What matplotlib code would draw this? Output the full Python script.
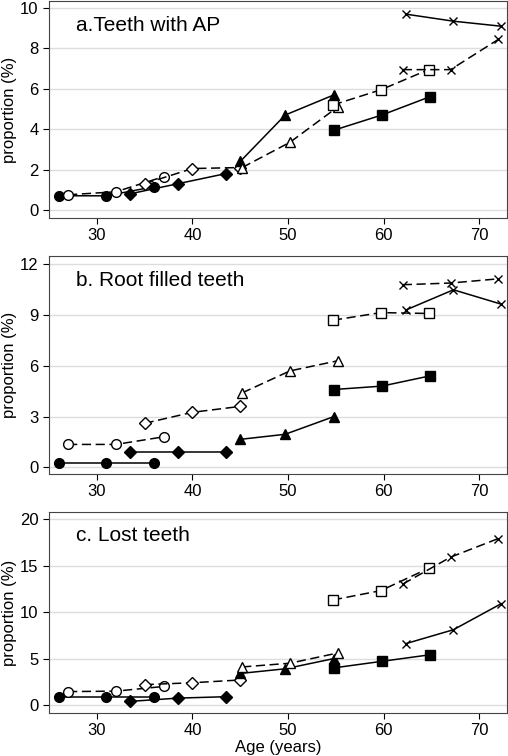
import matplotlib.pyplot as plt

plt.rcParams['font.family'] = ['Liberation Sans', 'DejaVu Sans']

# ages for each cohort (filled = solid line, open = dashed line)
age_circ_f = [26, 31, 36]
age_circ_o = [27, 32, 37]
age_diam_f = [33.5, 38.5, 43.5]
age_diam_o = [35, 40, 45]
age_tri_f = [45, 49.7, 54.8]
age_tri_o = [45.2, 50.2, 55.2]
age_sq_f = [54.8, 59.8, 64.8]
age_sq_o = [54.7, 59.7, 64.7]
age_x_f = [62.3, 67.3, 72.3]
age_x_o = [62, 67, 72]

# a. teeth with AP
ap = {
    'circ_f': [0.7, 0.7, 1.15], 'circ_o': [0.75, 0.9, 1.65],
    'diam_f': [0.8, 1.3, 1.8], 'diam_o': [1.3, 2.05, 2.1],
    'tri_f': [2.4, 4.7, 5.7], 'tri_o': [2.1, 3.35, 5.1],
    'sq_f': [3.95, 4.7, 5.6], 'sq_o': [5.2, 5.95, 6.95],
    'x_f': [9.7, 9.35, 9.1], 'x_o': [6.95, 6.95, 8.45],
}
# b. root filled teeth
rf = {
    'circ_f': [0.25, 0.25, 0.25], 'circ_o': [1.35, 1.35, 1.8],
    'diam_f': [0.9, 0.9, 0.9], 'diam_o': [2.6, 3.25, 3.6],
    'tri_f': [1.65, 1.95, 3.0], 'tri_o': [4.4, 5.7, 6.3],
    'sq_f': [4.6, 4.8, 5.4], 'sq_o': [8.7, 9.15, 9.1],
    'x_f': [9.3, 10.5, 9.65], 'x_o': [10.8, 10.9, 11.15],
}
# c. lost teeth
lost = {
    'circ_f': [0.9, 0.9, 0.9], 'circ_o': [1.45, 1.5, 2.0],
    'diam_f': [0.4, 0.75, 0.9], 'diam_o': [2.2, 2.4, 2.7],
    'tri_f': [3.4, 3.9, 5.0], 'tri_o': [4.1, 4.5, 5.6],
    'sq_f': [4.0, 4.7, 5.4], 'sq_o': [11.3, 12.3, 14.7],
    'x_f': [6.6, 8.1, 10.9], 'x_o': [13.0, 15.9, 17.9],
}

ages = {'circ_f': age_circ_f, 'circ_o': age_circ_o, 'diam_f': age_diam_f,
        'diam_o': age_diam_o, 'tri_f': age_tri_f, 'tri_o': age_tri_o,
        'sq_f': age_sq_f, 'sq_o': age_sq_o, 'x_f': age_x_f, 'x_o': age_x_o}
markers = {'circ': ('o', 7), 'diam': ('D', 6.5), 'tri': ('^', 7), 'sq': ('s', 7), 'x': ('x', 6)}

fig = plt.figure(figsize=(5.08, 7.56), dpi=100)
W, H = 508, 756
panels = [
    (ap, 'a.Teeth with AP', 1, 218, (-0.4, 10.35), [0, 2, 4, 6, 8, 10]),
    (rf, 'b. Root filled teeth', 256, 474, (-0.4, 12.5), [0, 3, 6, 9, 12]),
    (lost, 'c. Lost teeth', 512, 713, (-0.85, 20.75), [0, 5, 10, 15, 20]),
]
for i, (data, title, top, bot, ylim, yt) in enumerate(panels):
    ax = fig.add_axes([49 / W, 1 - bot / H, (507 - 49) / W, (bot - top) / H])
    for key, vals in data.items():
        kind, fill = key.split('_')
        m, ms = markers[kind]
        ls = '-' if fill == 'f' else (0, (6, 3))
        ax.plot(ages[key], vals, color='black', lw=1.1, linestyle=ls, marker=m,
                markersize=ms, markerfacecolor='black' if fill == 'f' else 'white',
                markeredgecolor='black', markeredgewidth=1)
    ax.set_xlim(25.0, 72.9)
    ax.set_ylim(*ylim)
    ax.set_yticks(yt)
    ax.set_xticks([30, 40, 50, 60, 70])
    ax.grid(axis='y', color='#dddddd', lw=1)
    ax.set_axisbelow(True)
    ax.tick_params(labelsize=12, direction='out', length=4)
    ax.set_ylabel('proportion (%)', fontsize=12, labelpad=2)
    ax.text(0.06, 0.93, title, transform=ax.transAxes, fontsize=15, va='top')
    for s in ax.spines.values():
        s.set_color('#444444')
    if i == 2:
        ax.set_xlabel('Age (years)', fontsize=12, labelpad=1)

fig.savefig('out.png', dpi=100)
